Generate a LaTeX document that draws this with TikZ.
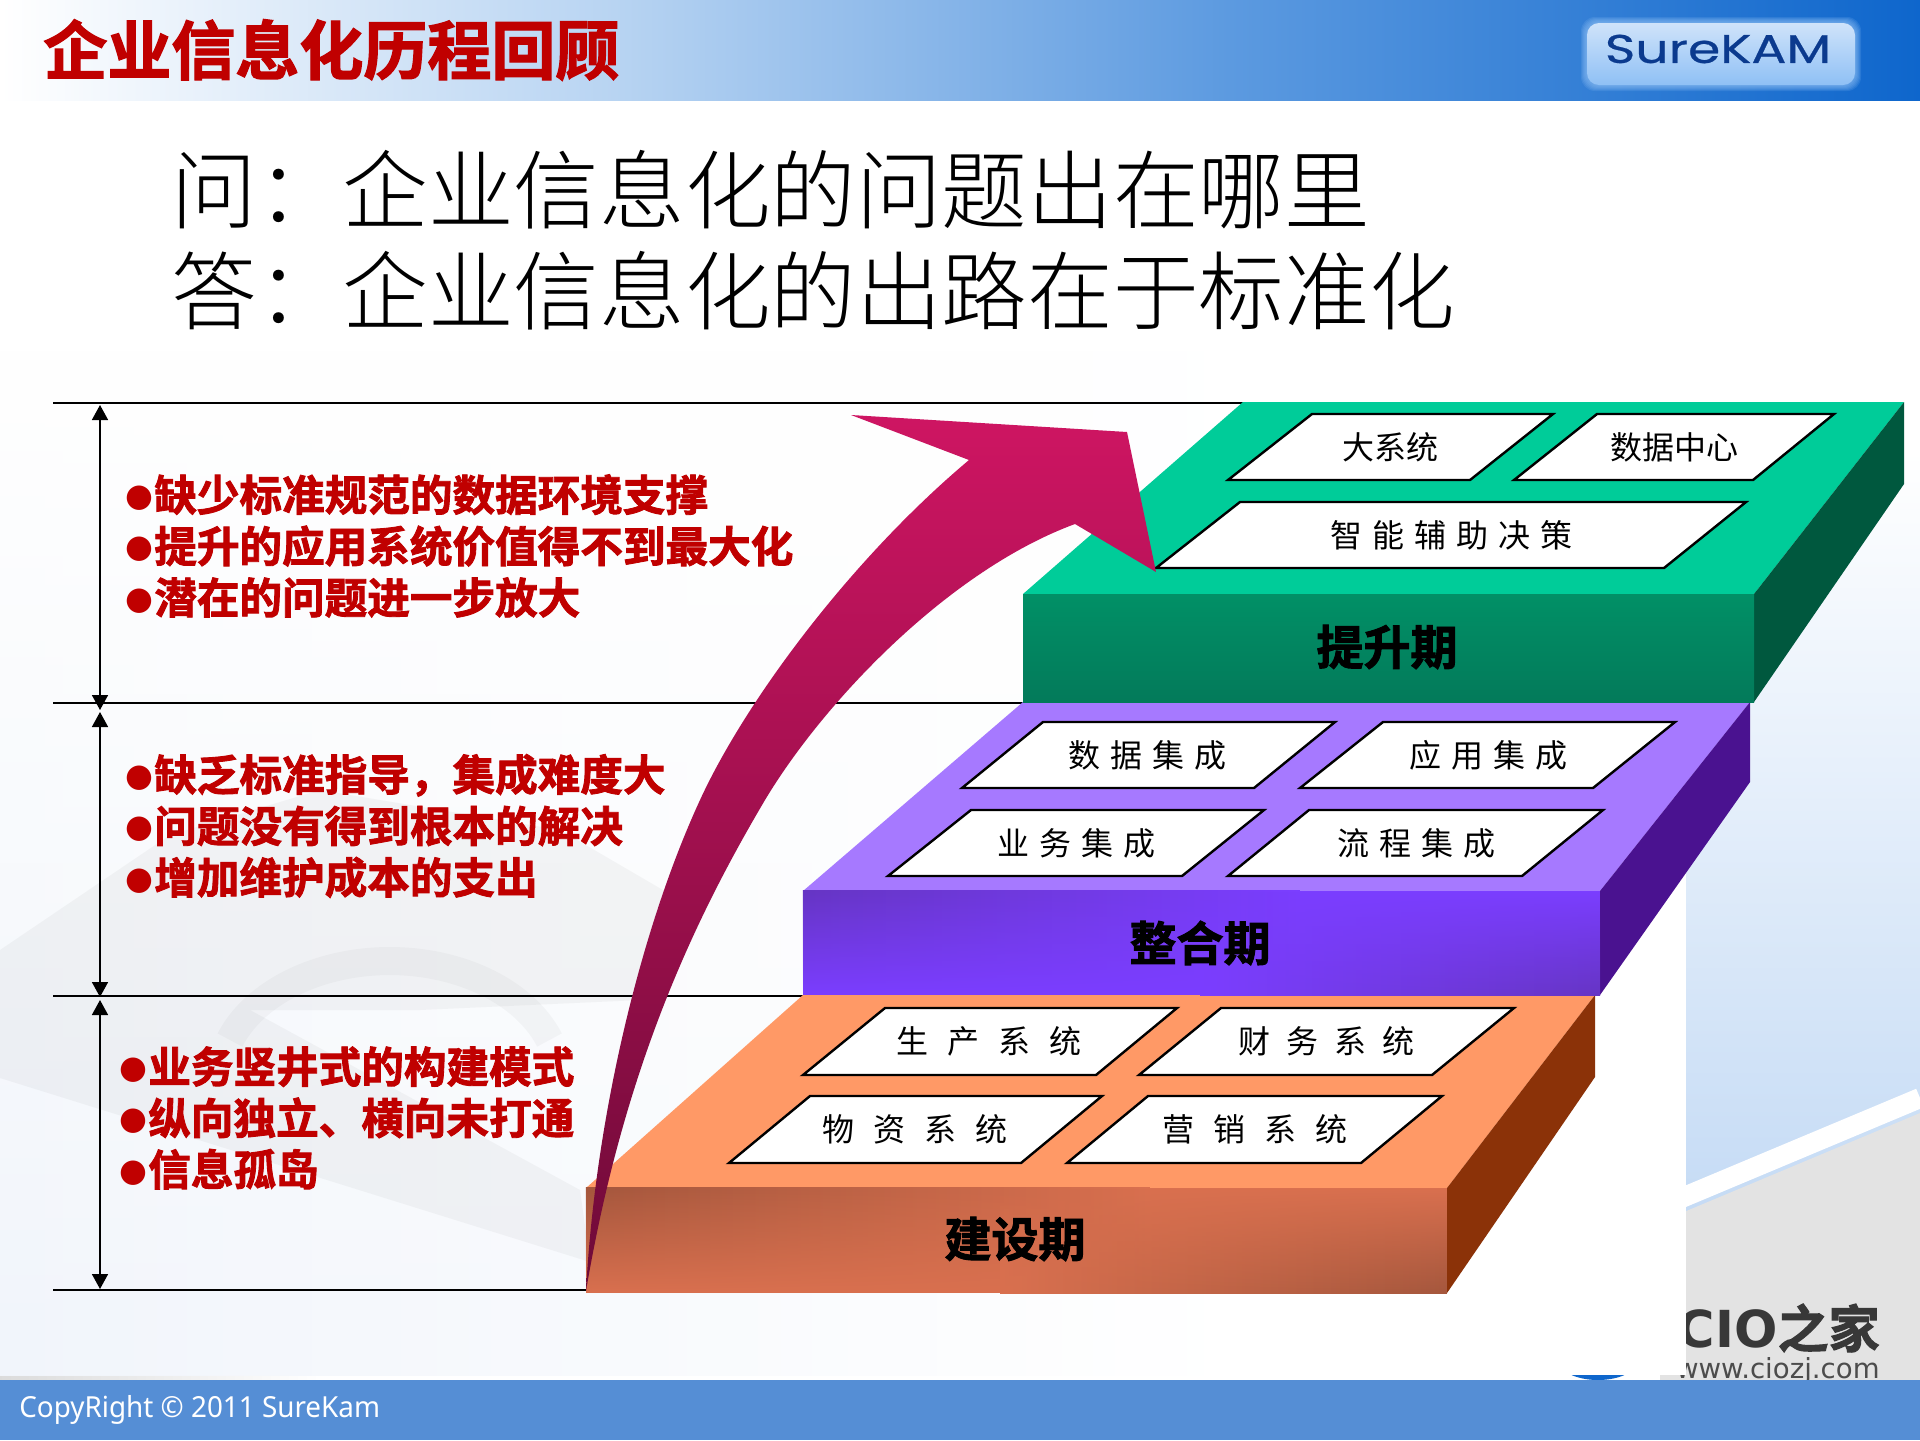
\documentclass[tikz,border=0pt]{standalone}
\usepackage{fontspec}
\usetikzlibrary{arrows.meta,fadings}
\setmainfont{Noto Sans CJK SC}
\newfontfamily\cjkheavy[FakeBold=2]{Noto Sans CJK SC Bold}
\newfontfamily\cjklight{Noto Sans CJK SC Light}
\newfontfamily\spotfont{DejaVu Sans}
\newfontfamily\logofont[FakeStretch=1.3,FakeBold=0.6]{Poppins}
\newfontfamily\footfont[FakeStretch=0.96]{Noto Sans}
\newcommand{\redspot}{{\spotfont\fontsize{16pt}{20pt}\selectfont\raisebox{2.2pt}{●}\kern0.5pt}}
\newcommand{\wordgap}[1]{\spaceskip #1\relax}
\definecolor{titlered}{HTML}{C00000}
\definecolor{footblue}{HTML}{558ED5}
\definecolor{panelblue}{HTML}{F1F5FB}
\definecolor{stripblue}{HTML}{C5DBF5}
\definecolor{headlight}{HTML}{B8D4F2}
\definecolor{headmid}{HTML}{5C9AE0}
\definecolor{headdeep}{HTML}{0E66CC}
\definecolor{logotop}{HTML}{CFE3FA}
\definecolor{logolow}{HTML}{8FC0F5}
\definecolor{logoink}{HTML}{0B3A8E}
\definecolor{greentop}{HTML}{00CC99}
\definecolor{greenfront}{HTML}{019066}
\definecolor{greendeep}{HTML}{037A5A}
\definecolor{greenside}{HTML}{00583E}
\definecolor{purpletop}{HTML}{A679FF}
\definecolor{purplefront}{HTML}{7B3EFF}
\definecolor{purpledeep}{HTML}{6635C4}
\definecolor{purpleside}{HTML}{4A1290}
\definecolor{orangetop}{HTML}{FF9966}
\definecolor{orangefront}{HTML}{D9704F}
\definecolor{orangedeep}{HTML}{A5573D}
\definecolor{orangeside}{HTML}{8B3208}
\definecolor{arrowtop}{HTML}{CE1562}
\definecolor{arrowmid}{HTML}{B01255}
\definecolor{arrowtail}{HTML}{6E0A38}
\pgfdeclarehorizontalshading{headerfade}{100bp}{
  color(0bp)=(white); color(25bp)=(white); color(41bp)=(headlight);
  color(57bp)=(headmid); color(75bp)=(headdeep); color(100bp)=(headdeep)}
\tikzset{
  titletext/.style={inner sep=0pt,anchor=west,text=titlered,font=\cjkheavy\fontsize{32pt}{36pt}\selectfont},
  asktext/.style={inner sep=0pt,anchor=west,font=\cjklight\fontsize{42.8pt}{46pt}\selectfont},
  pointtext/.style={inner sep=0pt,anchor=west,align=left,text=titlered,font=\cjkheavy\fontsize{21.3pt}{25.7pt}\selectfont},
  stagetext/.style={inner sep=0pt,font=\cjkheavy\fontsize{23.5pt}{26pt}\selectfont},
  tagtext/.style={inner sep=0pt,font=\fontsize{16pt}{19pt}\selectfont,execute at begin node={\wordgap{#1}}},
  tagbox/.style={draw=black,fill=white,line width=1.2pt,line join=miter},
  dimline/.style={black,line width=1pt},
  dimarrow/.style={black,line width=0.8pt,{Triangle[width=8pt,length=7.5pt]}-{Triangle[width=8pt,length=7.5pt]}}
}
\begin{document}
\begin{tikzpicture}[x=0.5pt,y=-0.5pt]
    \useasboundingbox (0,0) rectangle (1920,1440);

    % Backdrop to the right of the panel
    \fill[white] (0,0) rectangle (1920,1440);
    \shade[top color=white,bottom color=stripblue] (1686,450) rectangle (1920,1210);
    \fill[black!11] (1660,1222) -- (1920,1113) -- (1920,1380) -- (1660,1380) -- cycle;
    \draw[white,line width=10pt] (1660,1207) -- (1920,1098);
    \node[inner sep=0pt,anchor=east,text=black!78,font=\cjkheavy\fontsize{25.5pt}{28pt}\selectfont] (brandname) at (1880,1328) {{\spotfont\bfseries CIO}之家};
    \node[inner sep=0pt,anchor=east,text=black!70,font=\spotfont\fontsize{13.8pt}{15pt}\selectfont] (brandsite) at (1880,1371) {www.ciozj.com};
    \fill[headdeep] (1598,1360) ellipse (40 and 20);
    \shade[left color=black!14,right color=white] (0,1370) rectangle (320,1380);

    % Panel with its watermark
    \fill[white] (0,100) rectangle (1686,1375);
    \shade[left color=panelblue,middle color=panelblue,right color=white,path fading=north] (0,350) rectangle (1250,1375);
    \fill[black!45,opacity=0.08] (0,950) -- (170,835) -- (320,790) -- (560,830) -- (680,900) -- (640,1000) -- (420,1010) -- (250,1010) -- (580,1190) -- (590,1262) -- (0,1078) -- cycle;
    \draw[black!50,opacity=0.06,line width=14pt] (230,1040) arc (200:340:170 and 120);

    % Header and footer
    \shade[shading=headerfade] (0,0) rectangle (1920,100);
    \fill[footblue] (0,1380) rectangle (1920,1440);
    \foreach \grow in {1,2,...,6}
      \fill[logolow,opacity=0.16,rounded corners=7pt] (1587-\grow,23-\grow) rectangle (1855+\grow,85+\grow);
    \shade[top color=logotop,bottom color=logolow,rounded corners=6pt] (1587,23) rectangle (1855,85);
    \node[inner sep=0pt,text=logoink,font=\logofont\fontsize{20pt}{22pt}\selectfont] (logoname) at (1718,49) {SureKAM};
    \node[titletext] (pagetitle) at (43,50) {企业信息化历程回顾};
    \node[inner sep=0pt,anchor=west,text=white,font=\footfont\fontsize{14.5pt}{17pt}\selectfont] (copyline) at (19,1410) {CopyRight © 2011 SureKam};

    % Question and answer
    \node[asktext] (askline) at (171,190) {问：企业信息化的问题出在哪里};
    \node[asktext] (answerline) at (171,291) {答：企业信息化的出路在于标准化};

    % Level lines
    \coordinate (linea) at (53,403); \coordinate (lineaend) at (1243,403);
    \coordinate (lineb) at (53,703); \coordinate (linebend) at (1023,703);
    \coordinate (linec) at (53,996); \coordinate (linecend) at (803,996);
    \coordinate (lined) at (53,1290); \coordinate (linedend) at (586,1290);
    \draw[dimline] (linea) -- (lineaend);
    \draw[dimline] (lineb) -- (linebend);
    \draw[dimline] (linec) -- (linecend);
    \draw[dimline] (lined) -- (linedend);

    % Arrows between the levels
    \coordinate (spana) at (100,405); \coordinate (spanb) at (100,710);
    \coordinate (spanc) at (100,712); \coordinate (spand) at (100,997);
    \coordinate (spane) at (100,1000); \coordinate (spanf) at (100,1289);
    \draw[dimarrow] (spana) -- (spanb);
    \draw[dimarrow] (spanc) -- (spand);
    \draw[dimarrow] (spane) -- (spanf);

    % Points beside each level
    \node[pointtext] (pointsa) at (125,546) {\redspot{}缺少标准规范的数据环境支撑\\\redspot{}提升的应用系统价值得不到最大化\\\redspot{}潜在的问题进一步放大};
    \node[pointtext] (pointsb) at (125,826) {\redspot{}缺乏标准指导，集成难度大\\\redspot{}问题没有得到根本的解决\\\redspot{}增加维护成本的支出};
    \node[pointtext] (pointsc) at (119,1118) {\redspot{}业务竖井式的构建模式\\\redspot{}纵向独立、横向未打通\\\redspot{}信息孤岛};

    % Bottom slab
    \fill[orangetop] (803,995) -- (1595,995) -- (1447,1188) -- (586,1188) -- cycle;
    \fill[orangeside] (1595,995) -- (1595,1077) -- (1447,1293) -- (1447,1188) -- cycle;
    \fill[orangefront] (586,1188) rectangle (1447,1293);
    \shade[left color=orangedeep,right color=orangefront,path fading=south] (586,1188) rectangle (1150,1293);
    \shade[left color=orangefront,right color=orangedeep,path fading=north] (1000,1188) rectangle (1447,1293);
    \node[stagetext] (stagelow) at (1015,1239) {建设期};
    \draw[tagbox] (885,1008) -- (1177,1008) -- (1096,1075) -- (803,1075) -- cycle;
    \draw[tagbox] (1221,1008) -- (1514,1008) -- (1432,1075) -- (1139,1075) -- cycle;
    \draw[tagbox] (810,1096) -- (1102,1096) -- (1021,1163) -- (729,1163) -- cycle;
    \draw[tagbox] (1148,1096) -- (1442,1096) -- (1361,1163) -- (1067,1163) -- cycle;
    \node[tagtext=9.5pt] (tagmake) at (989,1041) {生 产 系 统};
    \node[tagtext=8pt] (tagfinance) at (1326,1041) {财 务 系 统};
    \node[tagtext=9.5pt] (tagstock) at (915,1129) {物 资 系 统};
    \node[tagtext=9.5pt] (tagsales) at (1255,1129) {营 销 系 统};

    % Middle slab
    \fill[purpletop] (1023,702) -- (1750,702) -- (1600,891) -- (803,891) -- cycle;
    \fill[purpleside] (1750,702) -- (1750,782) -- (1600,995) -- (1600,891) -- cycle;
    \fill[purplefront] (803,891) rectangle (1600,995);
    \shade[left color=purpledeep,right color=purplefront,path fading=south] (803,891) rectangle (1300,995);
    \shade[left color=purplefront,right color=purpledeep,path fading=north] (1200,891) rectangle (1600,995);
    \node[stagetext] (stagemid) at (1200,943) {整合期};
    \draw[tagbox] (1043,722) -- (1335,722) -- (1254,788) -- (962,788) -- cycle;
    \draw[tagbox] (1383,722) -- (1675,722) -- (1593,788) -- (1300,788) -- cycle;
    \draw[tagbox] (971,810) -- (1264,810) -- (1182,876) -- (888,876) -- cycle;
    \draw[tagbox] (1309,810) -- (1603,810) -- (1522,876) -- (1228,876) -- cycle;
    \node[tagtext=5pt] (tagdata) at (1147,755) {数 据 集 成};
    \node[tagtext=5pt] (tagapp) at (1488,755) {应 用 集 成};
    \node[tagtext=5pt] (tagbiz) at (1076,843) {业 务 集 成};
    \node[tagtext=5pt] (tagflow) at (1416,843) {流 程 集 成};

    % Top slab
    \fill[greentop] (1243,402) -- (1904,402) -- (1754,594) -- (1023,594) -- cycle;
    \fill[greenside] (1904,402) -- (1904,484) -- (1754,702) -- (1754,594) -- cycle;
    \shade[top color=greenfront,bottom color=greendeep] (1023,594) rectangle (1754,702);
    \node[stagetext] (stagehigh) at (1387,647) {提升期};
    \draw[tagbox] (1312,414) -- (1553,414) -- (1470,480) -- (1228,480) -- cycle;
    \draw[tagbox] (1597,414) -- (1834,414) -- (1753,480) -- (1514,480) -- cycle;
    \draw[tagbox] (1240,502) -- (1746,502) -- (1664,568) -- (1156,568) -- cycle;
    \node[tagtext=5pt] (tagbig) at (1390,447) {大系统};
    \node[tagtext=5pt] (tagcentre) at (1674,447) {数据中心};
    \node[tagtext=5pt] (tagdecide) at (1451,535) {智 能 辅 助 决 策};

    % Rising arrow
    \shade[top color=arrowtop,middle color=arrowmid,bottom color=arrowtail]
      (851,415) -- (1127,432) -- (1156,572) -- (1075,524)
      .. controls (950,570) and (825,700) .. (765,800)
      .. controls (700,910) and (625,1060) .. (586,1291)
      .. controls (595,1120) and (640,930) .. (700,800)
      .. controls (745,702) and (850,560) .. (969,460) -- cycle;
\end{tikzpicture}
\end{document}
